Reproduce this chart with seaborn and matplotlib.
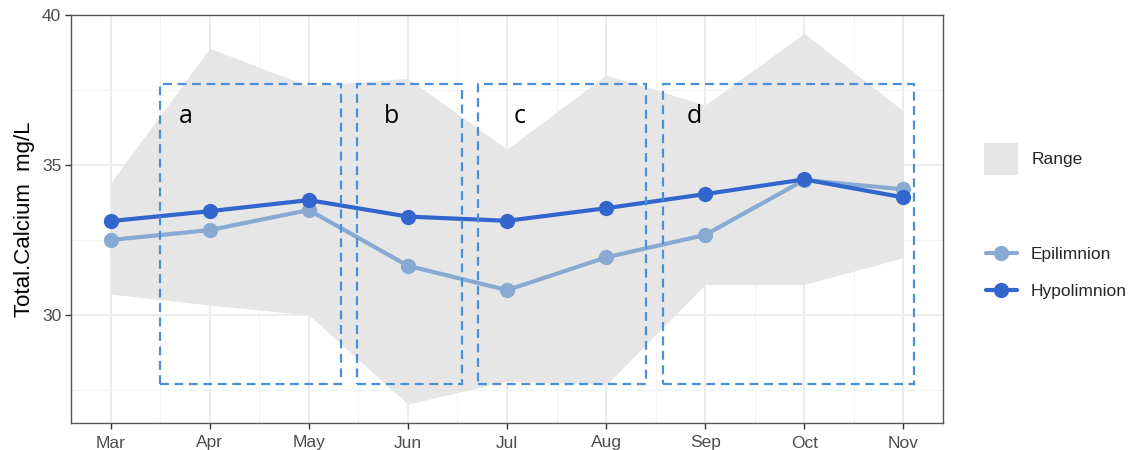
import numpy as np
import pandas as pd
import seaborn as sns
import matplotlib.pyplot as plt
from matplotlib.patches import Rectangle, Patch
from matplotlib.lines import Line2D

# data
months = ['Mar', 'Apr', 'May', 'Jun', 'Jul', 'Aug', 'Sep', 'Oct', 'Nov']
epilimnion = [32.50, 32.83, 33.50, 31.64, 30.83, 31.92, 32.67, 34.50, 34.19]
hypolimnion = [33.13, 33.46, 33.83, 33.28, 33.14, 33.56, 34.03, 34.52, 33.92]
range_hi = [34.41, 38.89, 37.63, 37.89, 35.53, 38.00, 37.00, 39.39, 36.80]
range_lo = [30.70, 30.33, 30.00, 27.03, 27.80, 27.67, 31.02, 31.02, 31.91]

# periods (x in month index units) and their labels
period_labels = ['a', 'b', 'c', 'd']
period_start = [0.50, 2.49, 3.71, 5.57]
period_end = [2.32, 3.55, 5.40, 8.11]
label_x = [0.76, 2.83, 4.13, 5.89]
label_y = 36.6
period_ymin, period_ymax = 27.7, 37.7

col_epi = '#88a9d2'
col_hypo = '#3366cc'
col_box = '#4a90d9'
col_range = '#e6e6e6'

sns.set_theme(style='whitegrid')
plt.rcParams['font.family'] = ['Liberation Sans', 'DejaVu Sans']

x = np.arange(len(months))
df = pd.DataFrame({
    'idx': np.concatenate([x, x]),
    'val': epilimnion + hypolimnion,
    'layer': ['Epilimnion'] * len(x) + ['Hypolimnion'] * len(x),
})

fig = plt.figure(figsize=(11.32, 4.5), dpi=100)
ax = fig.add_axes([71 / 1132, 27 / 450, (943 - 71) / 1132, (423 - 15) / 450])

ax.fill_between(x, range_lo, range_hi, color=col_range, linewidth=0, zorder=1)

sns.lineplot(data=df, x='idx', y='val', hue='layer',
             palette={'Epilimnion': col_epi, 'Hypolimnion': col_hypo},
             marker='o', markersize=11, markeredgewidth=0, linewidth=3,
             legend=False, ax=ax, zorder=3)

for x0, x1 in zip(period_start, period_end):
    ax.add_patch(Rectangle((x0, period_ymin), x1 - x0, period_ymax - period_ymin,
                           fill=False, edgecolor=col_box, linewidth=1.6,
                           linestyle=(0, (4, 2.5)), zorder=4))
for lab, lx in zip(period_labels, label_x):
    ax.text(lx, label_y, lab, fontsize=18, color='black',
            family=['Open Sans', 'DejaVu Sans'], ha='center', va='center', zorder=5)

ax.set_xlim(-0.4, 8.4)
ax.set_ylim(26.4, 40)
ax.set_xticks(x)
ax.set_xticklabels(months)
ax.set_yticks([30, 35, 40])
ax.set_xticks(x[:-1] + 0.5, minor=True)
ax.set_yticks([27.5, 32.5, 37.5], minor=True)
ax.grid(which='major', color='#ebebeb', linewidth=1.3)
ax.grid(which='minor', color='#f2f2f2', linewidth=0.8)
ax.set_facecolor('white')
for s in ax.spines.values():
    s.set_color('#555555')
    s.set_linewidth(1.0)
ax.tick_params(axis='both', which='major', labelsize=12.5, labelcolor='#4d4d4d',
               length=4, width=1, color='#333333', bottom=True, left=True, pad=3)
ax.tick_params(axis='x', which='major', pad=5)
ax.tick_params(which='minor', length=0)
ax.set_xlabel('')
ax.set_ylabel('Total.Calcium  mg/L', fontsize=16, color='black', labelpad=5)

fig.legend(handles=[Patch(facecolor=col_range, edgecolor='none', label='Range')],
           loc='center left', bbox_to_anchor=(968 / 1132, 1 - 159 / 450),
           frameon=False, fontsize=12.5, handlelength=2.0, handleheight=2.4,
           handletextpad=0.75)
handles = [Line2D([], [], color=col_epi, lw=3, marker='o', markersize=11,
                  markeredgewidth=0, label='Epilimnion'),
           Line2D([], [], color=col_hypo, lw=3, marker='o', markersize=11,
                  markeredgewidth=0, label='Hypolimnion')]
fig.legend(handles=handles, loc='center left',
           bbox_to_anchor=(970 / 1132, 1 - 273 / 450), frameon=False,
           fontsize=12.5, handlelength=1.8, handletextpad=0.8, labelspacing=1.25)

fig.savefig('out.png', dpi=100)
